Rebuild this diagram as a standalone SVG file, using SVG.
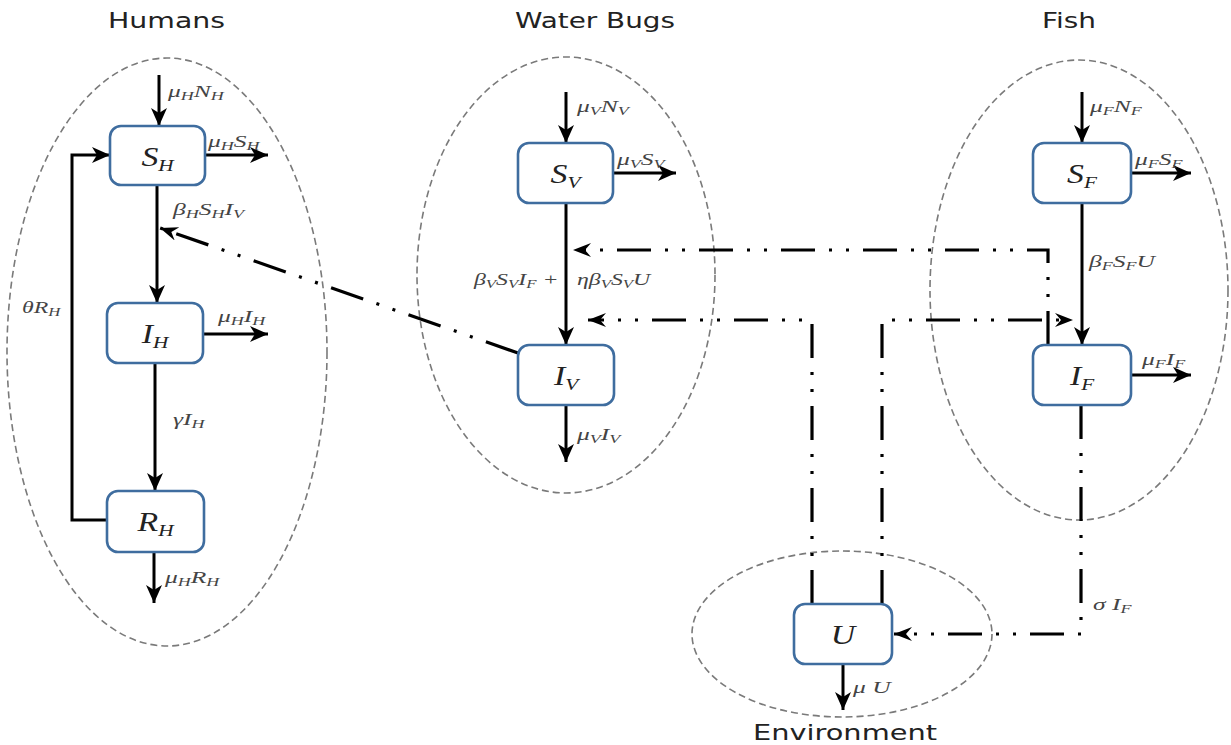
<svg xmlns="http://www.w3.org/2000/svg" width="1231" height="745" viewBox="0 0 1231 745">
<style>
.bg{fill:#fff}
.grp{fill:none;stroke:#7a7a7a;stroke-width:1.6;stroke-dasharray:7 4}
.box{fill:#fff;stroke:#3f6d9f;stroke-width:2.6}
.sol{fill:none;stroke:#000;stroke-width:3}
.dd{fill:none;stroke:#000;stroke-width:3.2;stroke-dasharray:34 14 3 14 3 14}
.ttl{font-family:"DejaVu Sans",Verdana,sans-serif;font-size:22px;fill:#222}
.bl{font-family:"Liberation Serif",serif;font-style:italic;font-size:27px;fill:#222}
.bs{font-size:17px}
.lb{font-family:"Liberation Serif",serif;font-style:italic;font-size:17px;fill:#444}
.sb{font-size:12px}
</style>
<defs>
<marker id="ah" markerUnits="userSpaceOnUse" markerWidth="20" markerHeight="18" refX="18" refY="8" orient="auto">
<path d="M18,8 L0,0 L5,8 L0,16 Z" fill="#000"/>
</marker>
<marker id="ad" markerUnits="userSpaceOnUse" markerWidth="20" markerHeight="16" refX="18" refY="7" orient="auto">
<path d="M18,7 L0,0 L6,7 L0,14 Z" fill="#000"/>
</marker>
</defs>
<rect class="bg" x="0" y="0" width="1231" height="745"/>

<g id="groups">
<ellipse id="grp-humans" class="grp" cx="167" cy="352" rx="160" ry="294"/>
<ellipse id="grp-bugs" class="grp" cx="566" cy="275" rx="149" ry="218"/>
<ellipse id="grp-fish" class="grp" cx="1079" cy="290" rx="149" ry="230"/>
<ellipse id="grp-env" class="grp" cx="842" cy="634" rx="150" ry="83"/>
</g>

<g id="titles">
<text class="ttl" x="108" y="28" textLength="117" lengthAdjust="spacingAndGlyphs">Humans</text>
<text class="ttl" x="515" y="28" textLength="160" lengthAdjust="spacingAndGlyphs">Water Bugs</text>
<text class="ttl" x="1042" y="28" textLength="54" lengthAdjust="spacingAndGlyphs">Fish</text>
<text class="ttl" x="753" y="740" textLength="184" lengthAdjust="spacingAndGlyphs">Environment</text>
</g>

<g id="connectors">
<path class="sol" d="M159,75 V126" marker-end="url(#ah)"/>
<path class="sol" d="M205,155 H268" marker-end="url(#ah)"/>
<path class="sol" d="M157,185 V303" marker-end="url(#ah)"/>
<path class="sol" d="M203,334 H268" marker-end="url(#ah)"/>
<path class="sol" d="M155,363 V491" marker-end="url(#ah)"/>
<path class="sol" d="M154,552 V603" marker-end="url(#ah)"/>
<path class="sol" d="M107,520 H72 V155 H110" marker-end="url(#ah)"/>
<path class="sol" d="M566,92 V143" marker-end="url(#ah)"/>
<path class="sol" d="M613,173 H676" marker-end="url(#ah)"/>
<path class="sol" d="M566,203 V345" marker-end="url(#ah)"/>
<path class="sol" d="M566,405 V462" marker-end="url(#ah)"/>
<path class="sol" d="M1082,92 V143" marker-end="url(#ah)"/>
<path class="sol" d="M1131,173 H1191" marker-end="url(#ah)"/>
<path class="sol" d="M1082,203 V345" marker-end="url(#ah)"/>
<path class="sol" d="M1131,375 H1191" marker-end="url(#ah)"/>
<path class="sol" d="M843,664 V710" marker-end="url(#ah)"/>

<path class="dd" d="M518,353 L160,228" marker-end="url(#ad)"/>
<path class="dd" d="M1048,345 V250 H573" marker-end="url(#ad)"/>
<path class="dd" d="M882,604 V320 H1073" marker-end="url(#ad)"/>
<path class="dd" d="M812,604 V320 H588" marker-end="url(#ad)"/>
<path class="dd" d="M1081,405 V634 H894" marker-end="url(#ad)"/>
</g>

<g id="node-SH">
<rect class="box" x="110" y="126" width="95" height="59" rx="11"/>
<text class="bl" text-anchor="middle" transform="translate(157.5,166) scale(1.25,1)">S<tspan class="bs" dy="5">H</tspan></text>
</g>
<g id="node-IH">
<rect class="box" x="107" y="303" width="96" height="60" rx="11"/>
<text class="bl" text-anchor="middle" transform="translate(155,343) scale(1.25,1)">I<tspan class="bs" dy="5">H</tspan></text>
</g>
<g id="node-RH">
<rect class="box" x="107" y="491" width="97" height="61" rx="11"/>
<text class="bl" text-anchor="middle" transform="translate(155.5,531) scale(1.25,1)">R<tspan class="bs" dy="5">H</tspan></text>
</g>
<g id="node-SV">
<rect class="box" x="518" y="143" width="95" height="60" rx="11"/>
<text class="bl" text-anchor="middle" transform="translate(565.5,183) scale(1.25,1)">S<tspan class="bs" dy="5">V</tspan></text>
</g>
<g id="node-IV">
<rect class="box" x="518" y="345" width="96" height="60" rx="11"/>
<text class="bl" text-anchor="middle" transform="translate(566,385) scale(1.25,1)">I<tspan class="bs" dy="5">V</tspan></text>
</g>
<g id="node-SF">
<rect class="box" x="1033" y="143" width="98" height="60" rx="11"/>
<text class="bl" text-anchor="middle" transform="translate(1082,183) scale(1.25,1)">S<tspan class="bs" dy="5">F</tspan></text>
</g>
<g id="node-IF">
<rect class="box" x="1033" y="345" width="98" height="60" rx="11"/>
<text class="bl" text-anchor="middle" transform="translate(1082,385) scale(1.25,1)">I<tspan class="bs" dy="5">F</tspan></text>
</g>
<g id="node-U">
<rect class="box" x="794" y="604" width="98" height="60" rx="11"/>
<text class="bl" text-anchor="middle" transform="translate(843,644) scale(1.25,1)">U</text>
</g>

<g id="labels">
<text class="lb" transform="translate(168,97) scale(1.5,1)">μ<tspan class="sb" dy="3">H</tspan><tspan dy="-3">N</tspan><tspan class="sb" dy="3">H</tspan></text>
<text class="lb" transform="translate(208,147) scale(1.5,1)">μ<tspan class="sb" dy="3">H</tspan><tspan dy="-3">S</tspan><tspan class="sb" dy="3">H</tspan></text>
<text class="lb" transform="translate(173,215) scale(1.5,1)">β<tspan class="sb" dy="3">H</tspan><tspan dy="-3">S</tspan><tspan class="sb" dy="3">H</tspan><tspan dy="-3">I</tspan><tspan class="sb" dy="3">V</tspan></text>
<text class="lb" transform="translate(218,322) scale(1.5,1)">μ<tspan class="sb" dy="3">H</tspan><tspan dy="-3">I</tspan><tspan class="sb" dy="3">H</tspan></text>
<text class="lb" transform="translate(173,425) scale(1.5,1)">γI<tspan class="sb" dy="3">H</tspan></text>
<text class="lb" transform="translate(22,313) scale(1.4,1)">θR<tspan class="sb" dy="3">H</tspan></text>
<text class="lb" transform="translate(165,583) scale(1.5,1)">μ<tspan class="sb" dy="3">H</tspan><tspan dy="-3">R</tspan><tspan class="sb" dy="3">H</tspan></text>
<text class="lb" transform="translate(577,112) scale(1.5,1)">μ<tspan class="sb" dy="3">V</tspan><tspan dy="-3">N</tspan><tspan class="sb" dy="3">V</tspan></text>
<text class="lb" transform="translate(617,165) scale(1.5,1)">μ<tspan class="sb" dy="3">V</tspan><tspan dy="-3">S</tspan><tspan class="sb" dy="3">V</tspan></text>
<text class="lb" transform="translate(474,285) scale(1.4,1)">β<tspan class="sb" dy="3">V</tspan><tspan dy="-3">S</tspan><tspan class="sb" dy="3">V</tspan><tspan dy="-3">I</tspan><tspan class="sb" dy="3">F</tspan><tspan dy="-3"> +</tspan></text>
<text class="lb" transform="translate(577,285) scale(1.4,1)">ηβ<tspan class="sb" dy="3">V</tspan><tspan dy="-3">S</tspan><tspan class="sb" dy="3">V</tspan><tspan dy="-3">U</tspan></text>
<text class="lb" transform="translate(577,440) scale(1.5,1)">μ<tspan class="sb" dy="3">V</tspan><tspan dy="-3">I</tspan><tspan class="sb" dy="3">V</tspan></text>
<text class="lb" transform="translate(1090,112) scale(1.5,1)">μ<tspan class="sb" dy="3">F</tspan><tspan dy="-3">N</tspan><tspan class="sb" dy="3">F</tspan></text>
<text class="lb" transform="translate(1135,165) scale(1.5,1)">μ<tspan class="sb" dy="3">F</tspan><tspan dy="-3">S</tspan><tspan class="sb" dy="3">F</tspan></text>
<text class="lb" transform="translate(1089,267) scale(1.5,1)">β<tspan class="sb" dy="3">F</tspan><tspan dy="-3">S</tspan><tspan class="sb" dy="3">F</tspan><tspan dy="-3">U</tspan></text>
<text class="lb" transform="translate(1142,365) scale(1.5,1)">μ<tspan class="sb" dy="3">F</tspan><tspan dy="-3">I</tspan><tspan class="sb" dy="3">F</tspan></text>
<text class="lb" transform="translate(1093,610) scale(1.5,1)">σ I<tspan class="sb" dy="3">F</tspan></text>
<text class="lb" transform="translate(853,693) scale(1.5,1)">μ U</text>
</g>
</svg>
